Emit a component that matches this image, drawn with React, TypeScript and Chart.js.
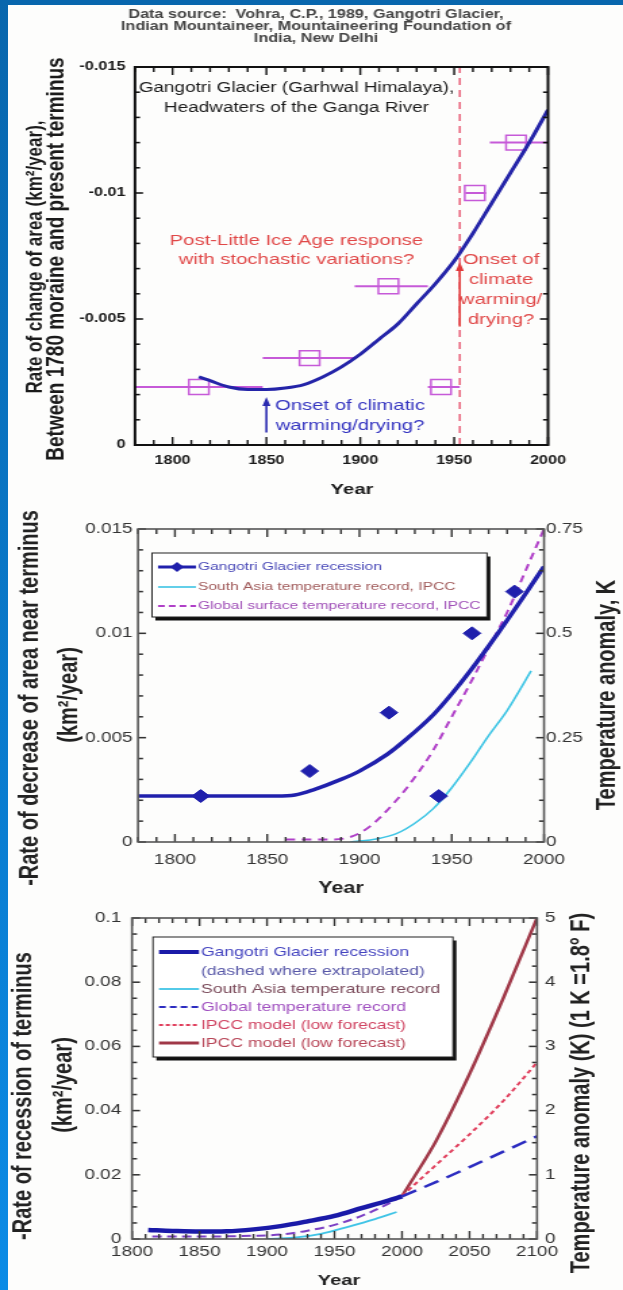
import React, { useEffect, useRef } from 'react';
import { Chart, registerables } from 'chart.js';

Chart.register(...registerables);

// ---------------- Panel 1 (top) ----------------
const p1YearTicks = [1800, 1850, 1900, 1950, 2000];
const p1RateTicks = [0, -0.005, -0.01, -0.015];
const p1ObsYears = [1814, 1873, 1915, 1943, 1961, 1983];
const p1ObsRates = [-0.0023, -0.00345, -0.0063, -0.0023, -0.01, -0.012];
const p1SpanStart = [1780, 1848, 1897, 1936, 1956, 1969];
const p1SpanEnd = [1848, 1898, 1936, 1953, 1967, 2000];
const p1FitYears = [1814, 1820, 1830, 1840, 1850, 1860, 1870, 1880, 1890, 1900, 1910, 1920, 1930, 1940, 1950, 1960, 1970, 1980, 1990, 2000];
const p1FitRates = [-0.0027, -0.00255, -0.0023, -0.0022, -0.0022, -0.00226, -0.0024, -0.0027, -0.0031, -0.0036, -0.0042, -0.0048, -0.0056, -0.0064, -0.0073, -0.0084, -0.0096, -0.0108, -0.012, -0.0133];
const p1OnsetYear = 1953;
const p1Source = ['Data source:  Vohra, C.P., 1989, Gangotri Glacier,', 'Indian Mountaineer, Mountaineering Foundation of', 'India, New Delhi'];
const p1NoteTitle = ['Gangotri Glacier (Garhwal Himalaya),', 'Headwaters of the Ganga River'];
const p1NoteLIA = ['Post-Little Ice Age response', 'with stochastic variations?'];
const p1NoteRed = ['Onset of', 'climate', 'warming/', 'drying?'];
const p1NoteBlue = ['Onset of climatic', 'warming/drying?'];
const p1YTitle = ['Rate of change of area (km\u00b2/year),', 'Between 1780 moraine and present terminus'];

// ---------------- Panel 2 (middle) ----------------
const p2YearTicks = [1800, 1850, 1900, 1950, 2000];
const p2RateTicks = [0, 0.005, 0.01, 0.015];
const p2TempTicks = [0, 0.25, 0.5, 0.75];
const p2ObsYears = [1814, 1873, 1916, 1943, 1961, 1984];
const p2ObsRates = [0.0022, 0.0034, 0.0062, 0.0022, 0.01, 0.012];
const p2FitYears = [1780, 1800, 1830, 1855, 1865, 1875, 1890, 1900, 1915, 1925, 1940, 1950, 1960, 1975, 1990, 2000];
const p2FitRates = [0.0022, 0.0022, 0.0022, 0.0022, 0.00225, 0.0025, 0.003, 0.0034, 0.0042, 0.0049, 0.0061, 0.0071, 0.0082, 0.01, 0.0119, 0.0132];
const p2SAYears = [1895, 1910, 1920, 1930, 1940, 1950, 1960, 1970, 1980, 1993];
const p2SATemps = [0, 0.008, 0.02, 0.045, 0.08, 0.13, 0.19, 0.255, 0.315, 0.41];
const p2GlobYears = [1860, 1885, 1895, 1905, 1920, 1930, 1940, 1950, 1960, 1970, 1980, 1990, 2000];
const p2GlobTemps = [0.006, 0.006, 0.012, 0.035, 0.1, 0.155, 0.22, 0.3, 0.38, 0.465, 0.55, 0.65, 0.75];
const p2Legend = ['Gangotri Glacier recession', 'South Asia temperature record, IPCC', 'Global surface temperature record, IPCC'];

// ---------------- Panel 3 (bottom) ----------------
const p3YearTicks = [1800, 1850, 1900, 1950, 2000, 2050, 2100];
const p3RateTicks = [0, 0.02, 0.04, 0.06, 0.08, 0.1];
const p3TempTicks = [0, 1, 2, 3, 4, 5];
const p3FitYears = [1812, 1830, 1850, 1870, 1890, 1910, 1930, 1950, 1970, 1990, 2000];
const p3FitRates = [0.0028, 0.0025, 0.0023, 0.0024, 0.003, 0.004, 0.0055, 0.0072, 0.0096, 0.012, 0.0133];
const p3ExtrapYears = [2000, 2025, 2050, 2075, 2100];
const p3ExtrapRates = [0.0133, 0.0177, 0.0224, 0.0272, 0.032];
const p3SAYears = [1900, 1920, 1940, 1960, 1980, 1996];
const p3SATemps = [0, 0.02, 0.08, 0.19, 0.31, 0.42];
const p3GlobYears = [1815, 1860, 1890, 1910, 1930, 1950, 1970, 1990, 2000];
const p3GlobTemps = [0.04, 0.04, 0.05, 0.07, 0.13, 0.22, 0.36, 0.55, 0.67];
const p3LowYears = [2000, 2025, 2050, 2075, 2100];
const p3LowTemps = [0.67, 1.15, 1.63, 2.15, 2.75];
const p3HighYears = [2000, 2010, 2025, 2050, 2075, 2100];
const p3HighTemps = [0.67, 1.0, 1.52, 2.57, 3.75, 5.0];
const p3Legend = ['Gangotri Glacier recession', '(dashed where extrapolated)', 'South Asia temperature record', 'Global temperature record', 'IPCC model (low forecast)', 'IPCC model (low forecast)'];

// ---------------- helpers ----------------
const W = 461; // internal canvas width, stretched to 623 css px
const S = 623 / W;
const cx = (css: number) => css / S;
const pts = (xs: number[], ys: number[]) => xs.map((x, i) => ({ x, y: ys[i] }));
const near = (v: number, list: number[]) => list.some((t) => Math.abs(t - v) < 1e-7);
const LS = '"Liberation Sans", Arial, sans-serif';

function axis(min: number, max: number, ticks: number[], o: any) {
  return {
    type: 'linear',
    position: o.pos,
    min,
    max,
    reverse: !!o.reverse,
    grid: { display: false, drawTicks: false },
    border: { display: false },
    afterBuildTicks: (s: any) => {
      s.ticks = ticks.map((v) => ({ value: v }));
    },
    afterFit: (s: any) => {
      if (o.horiz) s.height = o.size;
      else s.width = o.size;
    },
    ticks: {
      autoSkip: false,
      maxRotation: 0,
      minRotation: 0,
      padding: o.padding,
      font: o.font,
      color: o.color,
      callback: (v: number) => String(v),
    },
  };
}

// frame + inward ticks on all four sides (config passed by closure)
function makeFrame(f: any) {
  return {
    id: 'frameTicks',
    afterDatasetsDraw(chart: any) {
      const ctx = chart.ctx;
      const a = chart.chartArea;
      const xs = chart.scales.x;
      const ys = chart.scales.y;
      ctx.save();
      ctx.fillStyle = f.tickColor;
      const tw = f.tickW;
      const nX = Math.round((f.xMax - f.xMin) / f.xStep);
      for (let i = 0; i <= nX; i++) {
        const v = f.xMin + i * f.xStep;
        const p = xs.getPixelForValue(v);
        const L = near(v, f.xMajor) ? f.bigLen : f.smallLen;
        ctx.fillRect(p - tw / 2, a.bottom - L, tw, L);
        ctx.fillRect(p - tw / 2, a.top, tw, L);
      }
      const nY = Math.round((f.yMax - f.yMin) / f.yStep);
      const th = tw * 1.1;
      for (let i = 0; i <= nY; i++) {
        const v = f.yMin + i * f.yStep;
        const p = ys.getPixelForValue(v);
        const L = (near(v, f.yMajor) ? f.bigLen : f.smallLen) / S;
        ctx.fillRect(a.left, p - th / 2, L, th);
        ctx.fillRect(a.right - L, p - th / 2, L, th);
      }
      ctx.lineWidth = f.frameW;
      ctx.strokeStyle = f.frameColor;
      ctx.strokeRect(a.left, a.top, a.right - a.left, a.bottom - a.top);
      ctx.restore();
    },
  };
}

const textsPlugin = {
  id: 'texts',
  afterDraw(chart: any, _a: any, o: any) {
    const ctx = chart.ctx;
    (o.items || []).forEach((it: any) => {
      let x = it.x;
      let y = it.y;
      if (it.data) {
        x = chart.scales.x.getPixelForValue(it.x);
        y = chart.scales[it.axis || 'y'].getPixelForValue(it.y);
      }
      ctx.save();
      ctx.translate(x, y);
      if (it.rot) ctx.rotate(it.rot);
      ctx.font = it.font;
      ctx.fillStyle = it.color;
      ctx.textAlign = it.align || 'center';
      ctx.textBaseline = 'middle';
      ctx.fillText(it.t, 0, 0);
      ctx.restore();
    });
  },
};

const arrowsPlugin = {
  id: 'arrows',
  afterDatasetsDraw(chart: any, _a: any, o: any) {
    const ctx = chart.ctx;
    const xs = chart.scales.x;
    const ys = chart.scales.y;
    (o.items || []).forEach((a: any) => {
      const x = xs.getPixelForValue(a.x);
      const y0 = ys.getPixelForValue(a.from);
      const y1 = ys.getPixelForValue(a.to);
      const dir = y1 < y0 ? 1 : -1;
      const head = 9;
      ctx.save();
      ctx.strokeStyle = a.color;
      ctx.fillStyle = a.color;
      ctx.lineWidth = a.width;
      ctx.beginPath();
      ctx.moveTo(x, y0);
      ctx.lineTo(x, y1 + dir * head);
      ctx.stroke();
      ctx.beginPath();
      ctx.moveTo(x, y1);
      ctx.lineTo(x - 3, y1 + dir * head);
      ctx.lineTo(x + 3, y1 + dir * head);
      ctx.closePath();
      ctx.fill();
      ctx.restore();
    });
  },
};

const boxLegendPlugin = {
  id: 'boxLegend',
  afterDraw(chart: any, _a: any, o: any) {
    if (!o.rows) return;
    const ctx = chart.ctx;
    ctx.save();
    ctx.fillStyle = '#111';
    ctx.fillRect(o.x + 2.5, o.y + 3.5, o.w, o.h);
    ctx.fillStyle = '#fff';
    ctx.fillRect(o.x, o.y, o.w, o.h);
    ctx.strokeStyle = '#222';
    ctx.lineWidth = 1;
    ctx.strokeRect(o.x, o.y, o.w, o.h);
    o.rows.forEach((r: any) => {
      if (r.line) {
        ctx.strokeStyle = r.line;
        ctx.lineWidth = r.width;
        ctx.setLineDash(r.dash || []);
        ctx.beginPath();
        ctx.moveTo(o.s0, r.y);
        ctx.lineTo(o.s1, r.y);
        ctx.stroke();
        ctx.setLineDash([]);
      }
      if (r.diamond) {
        const mx = (o.s0 + o.s1) / 2;
        ctx.fillStyle = r.line;
        ctx.beginPath();
        ctx.moveTo(mx - 5, r.y);
        ctx.lineTo(mx, r.y - 5);
        ctx.lineTo(mx + 5, r.y);
        ctx.lineTo(mx, r.y + 5);
        ctx.closePath();
        ctx.fill();
      }
      ctx.font = o.font;
      ctx.fillStyle = r.color;
      ctx.textAlign = 'left';
      ctx.textBaseline = 'middle';
      ctx.fillText(r.text, o.tx, r.y);
    });
    ctx.restore();
  },
};

function common(extra: any) {
  return {
    responsive: false,
    animation: false,
    devicePixelRatio: 1,
    events: [],
    ...extra,
  };
}

// ---------------- Panel 1 config ----------------
function config1(): any {
  const mag = '#c65ad8';
  const datasets: any[] = [
    {
      data: pts(p1FitYears, p1FitRates),
      borderColor: '#2424a8',
      borderWidth: 3,
      pointRadius: 0,
      cubicInterpolationMode: 'monotone',
    },
    {
      data: pts(p1ObsYears, p1ObsRates),
      showLine: false,
      pointStyle: 'rect',
      pointRadius: 10.5,
      pointBorderColor: mag,
      pointBackgroundColor: 'rgba(0,0,0,0)',
      pointBorderWidth: 1.5,
    },
  ];
  p1ObsYears.forEach((_, i) => {
    datasets.push({
      data: [
        { x: p1SpanStart[i], y: p1ObsRates[i] },
        { x: p1SpanEnd[i], y: p1ObsRates[i] },
      ],
      borderColor: mag,
      borderWidth: 2,
      pointRadius: 0,
    });
  });
  datasets.push({
    data: [
      { x: p1OnsetYear, y: 0 },
      { x: p1OnsetYear, y: -0.015 },
    ],
    borderColor: '#e8607a',
    borderWidth: 1.5,
    borderDash: [7, 5],
    pointRadius: 0,
  });
  const tickFont = { family: LS, size: 12, weight: 'bold' };
  const items: any[] = [];
  p1Source.forEach((t, i) => items.push({ t, x: cx(316), y: 15 + i * 12, font: `bold 12px ${LS}`, color: '#444' }));
  items.push({ t: p1YTitle[0], x: cx(36), y: 257, rot: -Math.PI / 2, font: `bold 17px ${LS}`, color: '#1a1a1a' });
  items.push({ t: p1YTitle[1], x: cx(57), y: 259, rot: -Math.PI / 2, font: `bold 19px ${LS}`, color: '#1a1a1a' });
  items.push({ t: 'Year', x: cx(352), y: 490, font: `bold 15px ${LS}`, color: '#1a1a1a' });
  const t1y = [-0.01417, -0.01337];
  p1NoteTitle.forEach((t, i) => items.push({ t, data: true, x: 1866, y: t1y[i], font: `14px ${LS}`, color: '#1a1a1a' }));
  const liaY = [-0.0081, -0.00734];
  p1NoteLIA.forEach((t, i) => items.push({ t, data: true, x: 1866, y: liaY[i], font: `15px ${LS}`, color: '#e04848' }));
  const redY = [-0.00734, -0.00655, -0.00575, -0.00496];
  p1NoteRed.forEach((t, i) => items.push({ t, data: true, x: 1975, y: redY[i], font: `15px ${LS}`, color: '#e04848' }));
  const blueY = [-0.00155, -0.00075];
  p1NoteBlue.forEach((t, i) => items.push({ t, data: true, x: 1894.5, y: blueY[i], font: `15px ${LS}`, color: '#3434c0' }));

  const frame = makeFrame({
    xMin: 1780, xMax: 2000, xStep: 10, xMajor: p1YearTicks,
    yMin: -0.015, yMax: 0, yStep: 0.001, yMajor: p1RateTicks,
    bigLen: 8, smallLen: 5, tickW: 1.4, tickColor: '#111', frameW: 2, frameColor: '#111',
  });

  return {
    type: 'line',
    data: { datasets },
    plugins: [frame, arrowsPlugin, textsPlugin],
    options: common({
      layout: { padding: { top: 67, left: 0, bottom: 0, right: W - cx(548) } },
      scales: {
        x: axis(1780, 2000, p1YearTicks, { pos: 'bottom', horiz: true, size: 55, padding: 8, font: tickFont, color: '#1a1a1a' }),
        y: axis(-0.015, 0, p1RateTicks, { pos: 'left', reverse: true, size: cx(135), padding: 7, font: tickFont, color: '#1a1a1a' }),
      },
      plugins: {
        legend: { display: false },
        tooltip: { enabled: false },
        arrows: {
          items: [
            { x: 1850, from: -0.0005, to: -0.0019, color: '#2a2ab0', width: 1.6 },
            { x: p1OnsetYear, from: -0.0047, to: -0.00726, color: '#e03a3a', width: 1.6 },
          ],
        },
        texts: { items },
      },
    }),
  };
}

// ---------------- Panel 2 config ----------------
function config2(): any {
  const blue = '#2020ac';
  const cyan = '#3cc4e4';
  const mag = '#b040c8';
  const datasets: any[] = [
    {
      data: pts(p2ObsYears, p2ObsRates),
      showLine: false,
      pointStyle: 'rectRot',
      pointRadius: 6.5,
      pointBorderColor: blue,
      pointBackgroundColor: blue,
      yAxisID: 'y',
    },
    {
      data: pts(p2FitYears, p2FitRates),
      borderColor: blue,
      borderWidth: 3.5,
      pointRadius: 0,
      cubicInterpolationMode: 'monotone',
      yAxisID: 'y',
    },
    {
      data: pts(p2SAYears, p2SATemps),
      borderColor: cyan,
      borderWidth: 1.6,
      pointRadius: 0,
      cubicInterpolationMode: 'monotone',
      yAxisID: 'y1',
    },
    {
      data: pts(p2GlobYears, p2GlobTemps),
      borderColor: mag,
      borderWidth: 2,
      borderDash: [7, 5],
      pointRadius: 0,
      cubicInterpolationMode: 'monotone',
      yAxisID: 'y1',
    },
  ];
  const tickFont = { family: LS, size: 14 };
  const tf = `bold 20px ${LS}`;
  const items = [
    { t: '-Rate of decrease of area near terminus', x: cx(30), y: 198, rot: -Math.PI / 2, font: tf, color: '#222' },
    { t: '(km\u00b2/year)', x: cx(70), y: 195, rot: -Math.PI / 2, font: tf, color: '#222' },
    { t: 'Temperature anomaly, K', x: cx(608), y: 195, rot: -Math.PI / 2, font: tf, color: '#222' },
    { t: 'Year', x: cx(341), y: 389, font: `bold 16px ${LS}`, color: '#222' },
  ];
  const frame = makeFrame({
    xMin: 1780, xMax: 2000, xStep: 10, xMajor: p2YearTicks,
    yMin: 0, yMax: 0.015, yStep: 0.001, yMajor: p2RateTicks,
    bigLen: 8, smallLen: 5, tickW: 1.4, tickColor: '#333', frameW: 1.6, frameColor: '#555',
  });
  return {
    type: 'line',
    data: { datasets },
    plugins: [frame, textsPlugin, boxLegendPlugin],
    options: common({
      layout: { padding: { top: 29, left: 0, bottom: 0, right: 0 } },
      scales: {
        x: axis(1780, 2000, p2YearTicks, { pos: 'bottom', horiz: true, size: 58, padding: 10, font: tickFont, color: '#333' }),
        y: axis(0, 0.015, p2RateTicks, { pos: 'left', size: cx(138), padding: 4, font: tickFont, color: '#333' }),
        y1: axis(0, 0.75, p2TempTicks, { pos: 'right', size: W - cx(544), padding: 1.5, font: tickFont, color: '#333' }),
      },
      plugins: {
        legend: { display: false },
        tooltip: { enabled: false },
        texts: { items },
        boxLegend: {
          x: cx(152), y: 53, w: cx(487) - cx(152), h: 64, s0: cx(158), s1: cx(196), tx: cx(198), font: `11.5px ${LS}`,
          rows: [
            { text: p2Legend[0], y: 67, color: '#4a4ab8', line: blue, width: 3, diamond: true },
            { text: p2Legend[1], y: 87, color: '#a05a5a', line: cyan, width: 1.6 },
            { text: p2Legend[2], y: 106, color: '#a050b8', line: mag, width: 2, dash: [5, 3] },
          ],
        },
      },
    }),
  };
}

// ---------------- Panel 3 config ----------------
function config3(): any {
  const blue = '#1a1aa8';
  const blue2 = '#2c2cc0';
  const cyan = '#40c4e6';
  const purple = '#7c40c4';
  const red = '#e03e5c';
  const brown = '#a03848';
  const datasets: any[] = [
    { data: pts(p3FitYears, p3FitRates), borderColor: blue, borderWidth: 4.5, pointRadius: 0, cubicInterpolationMode: 'monotone', yAxisID: 'y' },
    { data: pts(p3ExtrapYears, p3ExtrapRates), borderColor: blue2, borderWidth: 2.5, borderDash: [12, 7], pointRadius: 0, cubicInterpolationMode: 'monotone', yAxisID: 'y' },
    { data: pts(p3SAYears, p3SATemps), borderColor: cyan, borderWidth: 1.8, pointRadius: 0, cubicInterpolationMode: 'monotone', yAxisID: 'y1' },
    { data: pts(p3GlobYears, p3GlobTemps), borderColor: purple, borderWidth: 2, borderDash: [7, 4], pointRadius: 0, cubicInterpolationMode: 'monotone', yAxisID: 'y1' },
    { data: pts(p3LowYears, p3LowTemps), borderColor: red, borderWidth: 2, borderDash: [4, 3], pointRadius: 0, cubicInterpolationMode: 'monotone', yAxisID: 'y1' },
    { data: pts(p3HighYears, p3HighTemps), borderColor: brown, borderWidth: 2.5, pointRadius: 0, cubicInterpolationMode: 'monotone', yAxisID: 'y1' },
  ];
  const tickFont = { family: LS, size: 14 };
  const tf = `bold 20px ${LS}`;
  const items = [
    { t: '-Rate of recession of terminus', x: cx(24), y: 196, rot: -Math.PI / 2, font: tf, color: '#222' },
    { t: '(km\u00b2/year)', x: cx(64), y: 185, rot: -Math.PI / 2, font: tf, color: '#222' },
    { t: 'Temperature anomaly (K) (1 K =1.8\u00b0 F)', x: cx(582), y: 193, rot: -Math.PI / 2, font: tf, color: '#222' },
    { t: 'Year', x: cx(339), y: 381, font: `bold 15px ${LS}`, color: '#222' },
  ];
  const frame = makeFrame({
    xMin: 1800, xMax: 2100, xStep: 10, xMajor: p3YearTicks,
    yMin: 0, yMax: 0.1, yStep: 0.005, yMajor: p3RateTicks,
    bigLen: 8, smallLen: 5, tickW: 1.4, tickColor: '#333', frameW: 1.6, frameColor: '#555',
  });
  return {
    type: 'line',
    data: { datasets },
    plugins: [frame, textsPlugin, boxLegendPlugin],
    options: common({
      layout: { padding: { top: 18, left: 0, bottom: 0, right: 0 } },
      scales: {
        x: axis(1800, 2100, p3YearTicks, { pos: 'bottom', horiz: true, size: 51, padding: 5, font: tickFont, color: '#333' }),
        y: axis(0, 0.1, p3RateTicks, { pos: 'left', size: cx(132), padding: 8, font: tickFont, color: '#333' }),
        y1: axis(0, 5, p3TempTicks, { pos: 'right', size: W - cx(537), padding: 6, font: tickFont, color: '#333' }),
      },
      plugins: {
        legend: { display: false },
        tooltip: { enabled: false },
        texts: { items },
        boxLegend: {
          x: cx(153), y: 37, w: cx(453) - cx(153), h: 120, s0: cx(159), s1: cx(199), tx: cx(201), font: `13px ${LS}`,
          rows: [
            { text: p3Legend[0], y: 52, color: '#4444c0', line: blue, width: 4 },
            { text: p3Legend[1], y: 71, color: '#5858a8' },
            { text: p3Legend[2], y: 89, color: '#7a4a5a', line: cyan, width: 1.8 },
            { text: p3Legend[3], y: 107, color: '#a050c0', line: blue2, width: 2, dash: [5, 3] },
            { text: p3Legend[4], y: 125, color: '#d04462', line: red, width: 2, dash: [3, 2] },
            { text: p3Legend[5], y: 143, color: '#b84658', line: brown, width: 3 },
          ],
        },
      },
    }),
  };
}

export default function App() {
  const r1 = useRef<HTMLCanvasElement>(null);
  const r2 = useRef<HTMLCanvasElement>(null);
  const r3 = useRef<HTMLCanvasElement>(null);
  useEffect(() => {
    document.body.style.margin = '0';
    const charts = [
      new Chart(r1.current as HTMLCanvasElement, config1()),
      new Chart(r2.current as HTMLCanvasElement, config2()),
      new Chart(r3.current as HTMLCanvasElement, config3()),
    ];
    return () => charts.forEach((c) => c.destroy());
  }, []);
  return (
    <div style={{ position: 'absolute', left: 0, top: 0, width: 623, height: 1290, background: '#fdfdfc', overflow: 'hidden' }}>
      <canvas ref={r1} width={W} height={500} style={{ position: 'absolute', left: 0, top: 0, width: 623, height: 500 }} />
      <canvas ref={r2} width={W} height={400} style={{ position: 'absolute', left: 0, top: 500, width: 623, height: 400 }} />
      <canvas ref={r3} width={W} height={390} style={{ position: 'absolute', left: 0, top: 900, width: 623, height: 390 }} />
      <div style={{ position: 'absolute', left: 0, top: 0, width: 623, height: 5, background: '#0866ad' }} />
      <div style={{ position: 'absolute', left: 0, top: 0, width: 8, height: 1290, background: 'linear-gradient(#0866ad, #0b8be6)' }} />
    </div>
  );
}
